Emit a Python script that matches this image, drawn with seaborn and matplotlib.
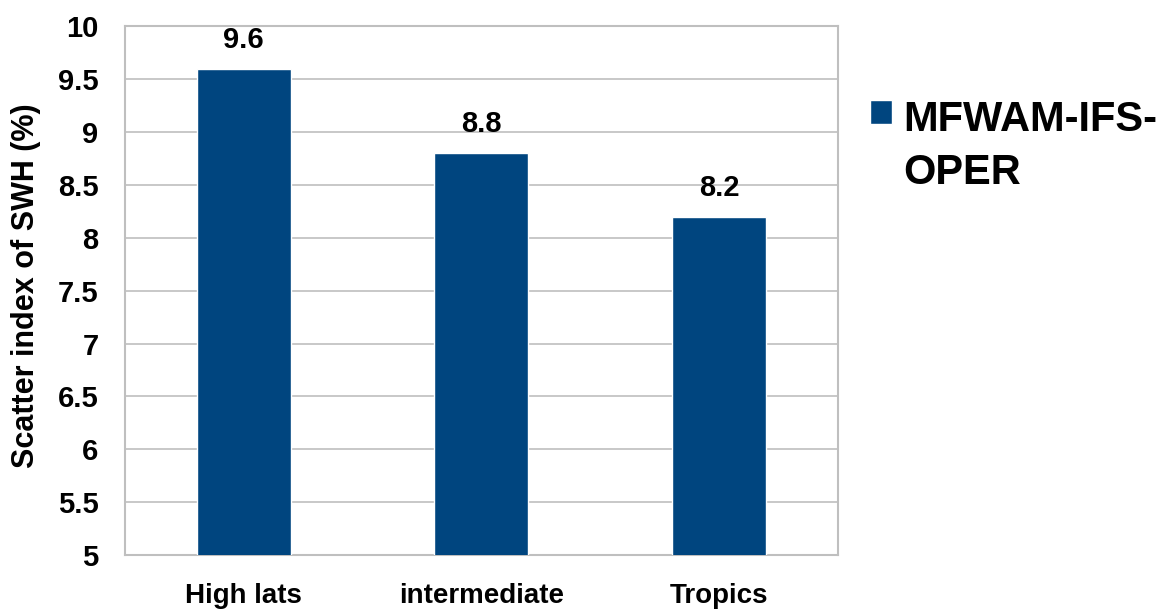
import matplotlib
matplotlib.use("Agg")
import matplotlib.pyplot as plt
import seaborn as sns
import pandas as pd
from matplotlib.ticker import FuncFormatter, MultipleLocator
from matplotlib.legend_handler import HandlerPatch, update_from_first_child
from matplotlib.patches import Rectangle
from matplotlib.container import BarContainer

regions = ["High lats", "intermediate", "Tropics"]
scatter_index = [9.6, 8.8, 8.2]
series_name = "MFWAM-IFS-\nOPER"

bar_color = "#00457F"
grid_color = "#BFBFBF"

sns.set_theme(style="white")
plt.rcParams["font.family"] = ["Liberation Sans", "DejaVu Sans"]
plt.rcParams["font.weight"] = "bold"
for key in ("text.color", "axes.labelcolor", "xtick.color", "ytick.color"):
    plt.rcParams[key] = "black"

df = pd.DataFrame({"region": regions, "si": scatter_index})

fig = plt.figure(figsize=(11.67, 6.10), dpi=100)
ax = fig.add_axes([0.107, 0.090, 0.611, 0.867])

sns.barplot(data=df, x="region", y="si", color=bar_color, width=0.395,
            saturation=1, label=series_name, ax=ax, zorder=3)

ax.set_ylim(5, 10)
ax.yaxis.set_major_locator(MultipleLocator(0.5))
ax.yaxis.set_major_formatter(FuncFormatter(lambda v, p: f"{v:g}"))
ax.grid(axis="y", color=grid_color, linewidth=1.2, zorder=0)
ax.set_axisbelow(True)
for s in ax.spines.values():
    s.set_color(grid_color)
    s.set_linewidth(1.5)

ax.set_xlabel("")
ax.set_ylabel("Scatter index of SWH (%)", fontsize=22, fontweight="bold")
ax.yaxis.set_label_coords(-0.117, 0.51)
ax.tick_params(axis="y", labelsize=21, length=0, pad=19)
ax.tick_params(axis="x", labelsize=20, length=0, pad=20)
for lbl in ax.get_xticklabels() + ax.get_yticklabels():
    lbl.set_fontweight("bold")

for bar, v in zip(ax.patches, scatter_index):
    ax.annotate(f"{v:g}", (bar.get_x() + bar.get_width() / 2, v),
                xytext=(0, 15), textcoords="offset points",
                ha="center", va="baseline", fontsize=21, fontweight="bold")


def top_line_square(legend, orig_handle, xdescent, ydescent, width, height, fontsize):
    # keep the swatch level with the first line of a two-line label
    return Rectangle((-xdescent, -ydescent + 0.84 * fontsize), width, height)


leg = ax.legend(loc="upper left", bbox_to_anchor=(1.045, 0.86), frameon=False,
                borderpad=0, borderaxespad=0,
                handlelength=0.53, handleheight=0.53, handletextpad=0.27,
                prop={"size": 30, "weight": "bold"},
                handler_map={BarContainer: HandlerPatch(patch_func=top_line_square,
                                                        update_func=update_from_first_child)})
for t in leg.get_texts():
    t.set_linespacing(1.4)

fig.savefig("out.png", dpi=100)
